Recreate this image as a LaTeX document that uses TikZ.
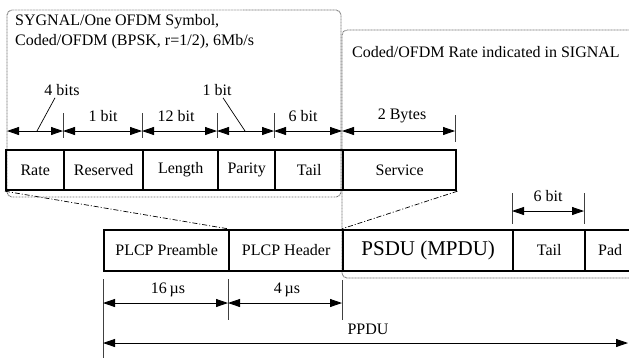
\documentclass[tikz,border=0pt]{standalone}
\usepackage{fontspec}
\setmainfont{Liberation Serif}
\usetikzlibrary{arrows.meta}
\begin{document}
\begin{tikzpicture}[x=1bp,y=-1bp,
  font=\fontsize{16bp}{19bp}\selectfont,
  field/.style={draw, line width=2.4bp, inner sep=0pt, anchor=west},
  lbl/.style={inner sep=0pt},
  tip/.tip={Triangle[length=12bp,width=8bp]},
  dim/.style={tip-tip, line width=0.8bp},
  tick/.style={line width=0.7bp, black!75},
  dotbox/.style={line width=0.9bp, black!55, dash pattern=on 0.9bp off 0.6bp, rounded corners=5bp},
  dashdot/.style={line width=0.7bp, dash pattern=on 5bp off 2bp on 1bp off 2bp},
  leader/.style={line width=0.7bp}]
\clip (0,0) rectangle (629,358);
\useasboundingbox (0,0) rectangle (629,358);
\fill[white] (0,0) rectangle (629,358);

% dotted enclosures
\draw[dotbox] (7,197) rectangle (341,10);
\draw[dotbox] (660,30) -- (342,30) -- (342,278) -- (660,278);

% header texts
\node[lbl, anchor=west] (sig1) at (15,22) {SYGNAL/One OFDM Symbol,};
\node[lbl, anchor=west] (sig2) at (15,42) {Coded/OFDM (BPSK, r=1/2), 6Mb/s};
\node[lbl, anchor=west] (rateind) at (352,52) {Coded/OFDM Rate indicated in SIGNAL};

% SIGNAL fields
\node[field, minimum width=58bp, minimum height=40bp] (rate) at (5,170) {Rate};
\node[field, minimum width=79bp, minimum height=40bp] (reserved) at (63,170) {Reserved};
\node[field, minimum width=75bp, minimum height=40bp] (length) at (142,170) {Length};
\node[field, minimum width=57bp, minimum height=40bp] (parity) at (217,170) {Parity};
\node[field, minimum width=68bp, minimum height=40bp] (tail1) at (274,170) {Tail};
\node[field, minimum width=113bp, minimum height=40bp] (service) at (342,170) {Service};

% ticks above fields
\coordinate (a0) at (7,131);
\coordinate (a1) at (63,131);
\coordinate (a2) at (142,131);
\coordinate (a3) at (217,131);
\coordinate (a4) at (274,131);
\coordinate (a5) at (342,131);
\coordinate (a6) at (455,131);
\foreach \x in {63,142,217,274} \draw[tick] (\x,113) -- (\x,138);
\draw[tick] (455,115) -- (455,142);

\draw[dim] (a0) -- (a1);
\draw[dim] (a1) -- (a2);
\draw[dim] (a2) -- (a3);
\draw[dim] (a3) -- (a4);
\draw[dim] (a4) -- (a5);
\draw[dim] (a5) -- (a6);

\node[lbl] (l4bits) at (62,90) {4 bits};
\node[lbl] (l1bitA) at (103,116) {1 bit};
\node[lbl] (l12bit) at (176,116) {12 bit};
\node[lbl] (l1bitB) at (217,90) {1 bit};
\node[lbl] (l6bitA) at (303,116) {6 bit};
\node[lbl] (l2bytes) at (402,116) {2 Bytes};

\coordinate (p4) at (37,131);
\coordinate (p1) at (245,131);
\draw[leader] ([xshift=-7bp,yshift=-2bp]l4bits.south) -- (p4);
\draw[leader] ([xshift=6bp,yshift=-2bp]l1bitB.south) -- (p1);

% PPDU row
\node[field, minimum width=125bp, minimum height=41bp] (preamble) at (103,250.5) {PLCP Preamble};
\node[field, minimum width=114bp, minimum height=41bp] (header) at (228,250.5) {PLCP Header};
\node[field, minimum width=170bp, minimum height=41bp, font=\fontsize{21bp}{24bp}\selectfont] (psdu) at (342,250.5) {PSDU (MPDU)};
\node[field, minimum width=72bp, minimum height=41bp] (tail2) at (512,250.5) {Tail};
\node[field, minimum width=50bp, minimum height=41bp] (pad) at (584,250.5) {Pad};

% expansion lines
\draw[dashdot] (rate.south west) -- (header.north west);
\draw[dashdot] (service.south east) -- (psdu.north west);

% tail 6 bit
\draw[tick] (512,193) -- (512,224);
\draw[tick] (584,193) -- (584,224);
\coordinate (b0) at (512,211);
\coordinate (b1) at (584,211);
\draw[dim] (b0) -- (b1);
\node[lbl] (l6bitB) at (548,196) {6 bit};

% timing
\draw[tick] (103,279) -- (103,358);
\draw[tick] (228,279) -- (228,320);
\draw[tick] (342,280) -- (342,320);
\coordinate (c0) at (103,303);
\coordinate (c1) at (228,303);
\coordinate (c2) at (342,303);
\draw[dim] (c0) -- (c1);
\draw[dim] (c1) -- (c2);
\node[lbl] (l16) at (168,290) {16\,µs};
\node[lbl] (l4us) at (287,290) {4\,µs};

\coordinate (d0) at (103,343);
\coordinate (d1) at (628,343);
\draw[dim] (d0) -- (d1);
\node[lbl] (lppdu) at (368,329) {PPDU};
\end{tikzpicture}
\end{document}
